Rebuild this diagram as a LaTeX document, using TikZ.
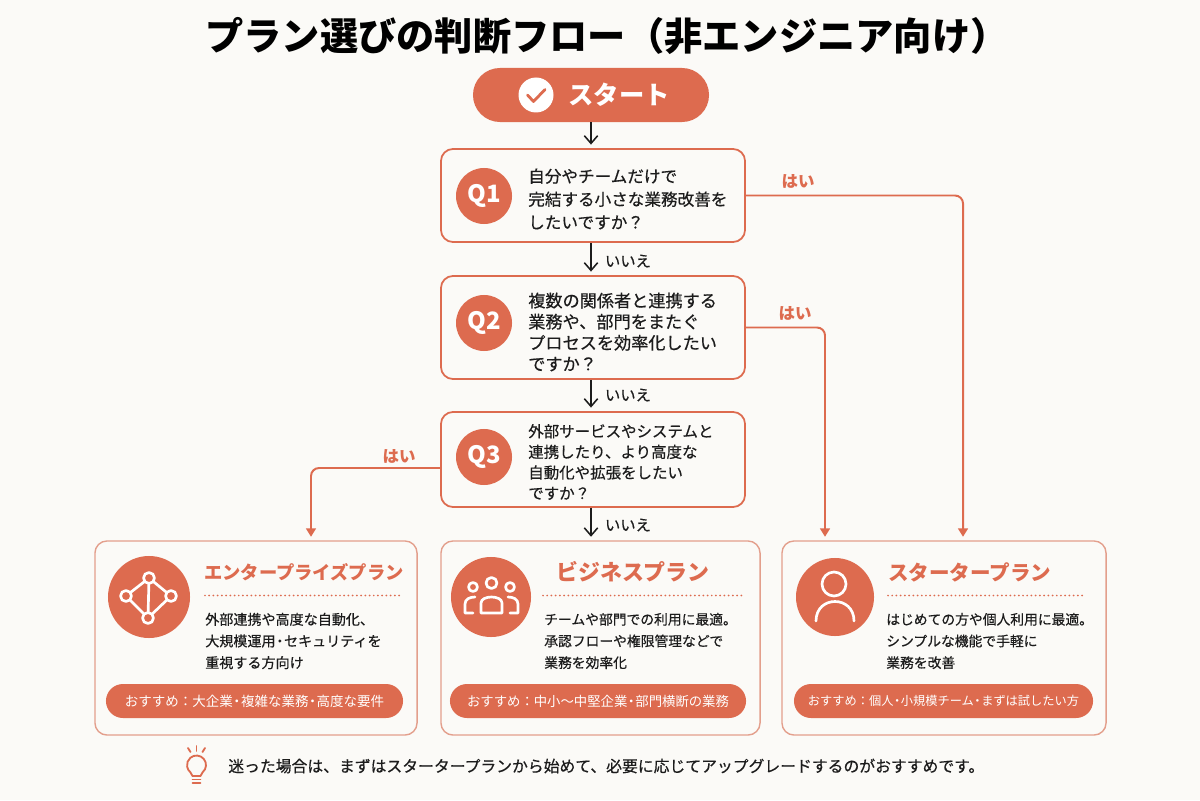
\documentclass[tikz,border=0pt]{standalone}
\usepackage{fontspec}
\setmainfont{Noto Sans CJK JP}
\newfontfamily\planmed{Noto Sans CJK JP}[FakeBold=0.5]
\usetikzlibrary{arrows.meta}
\definecolor{planred}{HTML}{DD6B4F}
\definecolor{planedge}{HTML}{E39F8C}
\definecolor{planbg}{HTML}{FBFAF7}
\definecolor{planink}{HTML}{1C1C1C}
\newcommand{\halfdot}{\makebox[0.6em]{・}}
\tikzset{
  startbox/.style={fill=planred,text=white,rounded corners=0.675cm,minimum width=5.9cm,minimum height=1.35cm},
  qbox/.style={draw=planred,line width=1.25pt,fill=planbg,rounded corners=0.3cm,minimum width=7.6cm},
  qdot/.style={circle,fill=planred,text=white,minimum size=1.4cm,inner sep=0pt,font=\fontsize{17}{17}\selectfont\bfseries},
  qtext/.style 2 args={anchor=west,align=left,inner sep=0pt,text=planink,font=\fontsize{#1}{#2}\selectfont\planmed},
  cardbox/.style={draw=planedge,line width=1pt,fill=planbg,rounded corners=0.3cm,minimum height=4.85cm},
  carddot/.style={circle,fill=planred,minimum size=2cm,inner sep=0pt},
  cardtitle/.style={inner sep=0pt,text=planred,font=\fontsize{#1}{18}\selectfont\bfseries},
  cardtext/.style={anchor=west,align=left,inner sep=0pt,text=planink,font=\fontsize{#1}{15.4}\selectfont\planmed},
  pill/.style={fill=planred,text=white,rounded corners=0.425cm,minimum height=0.85cm,inner sep=0pt,font=\fontsize{#1}{11}\selectfont},
  noline/.style={-{Straight Barb[length=5.5pt,width=9.5pt]},draw=planink,line width=1.1pt,shorten >=2.5pt},
  yesline/.style={-{Triangle[length=6pt,width=7pt]},draw=planred,line width=1.4pt,rounded corners=0.2cm,shorten >=3pt},
  yeslabel/.style={inner sep=0pt,text=planred,font=\fontsize{11.7}{13}\selectfont\bfseries},
  nolabel/.style={inner sep=0pt,text=planink,font=\fontsize{10.9}{12}\selectfont\planmed},
  iconline/.style={draw=white,line width=1.9pt,line cap=round,line join=round},
  dotrule/.style={draw=planred,line width=1.4pt,line cap=round,dash pattern=on 0pt off 3pt},
  bulbline/.style={draw=planred,line width=1.3pt,line join=round,line cap=round},
}
\begin{document}
\begin{tikzpicture}[x=0.025cm,y=-0.025cm]
\useasboundingbox (0,0) rectangle (1200,800);
\fill[planbg] (0,0) rectangle (1200,800);
\node[inner sep=0pt,text=black,font=\fontsize{27.2}{30}\selectfont\bfseries] (title) at (607,36) {プラン選びの判断フロー（非エンジニア向け）};

\node[startbox] (start) at (591,95) {};
\fill[white] (536,95) circle (17.5);
\draw[draw=planred,line width=2pt,line cap=round,line join=round] (527.5,95) -- (533.5,101.5) -- (545,89.5);
\node[inner sep=0pt,text=white,font=\fontsize{18}{20}\selectfont\bfseries] (starttext) at (619,95) {スタート};

\node[qbox,minimum height=2.325cm] (q1) at (593,195.5) {};
\node[qbox,minimum height=2.575cm] (q2) at (593,327.5) {};
\node[qbox,minimum height=2.375cm] (q3) at (593,459.5) {};
\node[qdot] (q1dot) at (484,196) {Q1};
\node[qdot] (q2dot) at (484,323) {Q2};
\node[qdot] (q3dot) at (484,457) {Q3};
\node[qtext={11.8}{16.4}] (q1text) at (528,199) {自分やチームだけで\\完結する小さな業務改善を\\したいですか？};
\node[qtext={12.2}{15}] (q2text) at (528,332) {複数の関係者と連携する\\業務や、部門をまたぐ\\プロセスを効率化したい\\ですか？};
\node[qtext={11}{14.7}] (q3text) at (528,462) {外部サービスやシステムと\\連携したり、より高度な\\自動化や拡張をしたい\\ですか？};

\node[cardbox,minimum width=8.05cm] (ent) at (256,638) {};
\node[cardbox,minimum width=7.975cm] (biz) at (600.5,638) {};
\node[cardbox,minimum width=8.1cm] (sta) at (944,638) {};

\coordinate (q3out) at (441,468);
\coordinate (entin) at (311,541);
\coordinate (q2in) at (825,541);
\coordinate (q1in) at (963,541);
\draw[noline] (start.south) -- (start |- q1.north);
\draw[noline] (start |- q1.south) -- (start |- q2.north);
\draw[noline] (start |- q2.south) -- (start |- q3.north);
\draw[noline] (start |- q3.south) -- (start |- biz.north);
\draw[yesline] (q1.east) -| (q1in);
\draw[yesline] (q2.east) -| (q2in);
\draw[yesline] (q3out) -| (entin);
\node[yeslabel] (yes1) at (798,181) {はい};
\node[yeslabel] (yes2) at (795,313) {はい};
\node[yeslabel] (yes3) at (399,456) {はい};
\node[nolabel] (no1) at (628,261) {いいえ};
\node[nolabel] (no2) at (628,395) {いいえ};
\node[nolabel] (no3) at (628,525) {いいえ};

\node[carddot,minimum size=2.05cm] (entdot) at (149,597) {};
\node[carddot] (bizdot) at (491,597) {};
\node[carddot,minimum size=1.95cm] (stadot) at (835,597) {};

\coordinate (nt) at (149,578);
\coordinate (nl) at (126,596);
\coordinate (nr) at (171,596);
\coordinate (nb) at (148,618);
\draw[iconline] (nt) -- (nl) -- (nb) -- (nr) -- cycle;
\draw[iconline] (nt) -- (nb);
\foreach \p in {nt,nl,nr,nb}
	\filldraw[iconline,fill=planred] (\p) circle (5.5);

\draw[iconline] (491.5,583) circle (5.5);
\draw[iconline] (473,587) circle (4.5);
\draw[iconline] (510,587) circle (4.5);
\draw[iconline] (481,613) -- (481,603) .. controls (481,595) and (502,595) .. (502,603) -- (502,613) -- cycle;
\draw[iconline] (473,613) -- (465,613) -- (465,604) .. controls (465,599) and (470,597) .. (475,597);
\draw[iconline] (510,613) -- (518,613) -- (518,604) .. controls (518,599) and (513,597) .. (508,597);

\draw[iconline] (834,584) circle (12);
\draw[iconline] (816,621) .. controls (816,595) and (854,595) .. (854,621);

\node[cardtitle=13,anchor=west] (enttitle) at (204,572) {エンタープライズプラン};
\node[cardtitle=15.6] (biztitle) at (633,572) {ビジネスプラン};
\node[cardtitle=14.6,anchor=west] (statitle) at (888,572) {スタータープラン};
\draw[dotrule] (205,595.5) -- (402,595.5);
\draw[dotrule] (543,595.5) -- (744,595.5);
\draw[dotrule] (888,595.5) -- (1083,595.5);

\node[cardtext=10] (enttext) at (205,641) {外部連携や高度な自動化、\\大規模運用\halfdot セキュリティを\\重視する方向け};
\node[cardtext=9.8] (biztext) at (544,641) {チームや部門での利用に最適。\\承認フローや権限管理などで\\業務を効率化};
\node[cardtext=9.8] (statext) at (886,641) {はじめての方や個人利用に最適。\\シンプルな機能で手軽に\\業務を改善};

\node[pill=9.6,minimum width=7.425cm] (entpill) at (254.5,701) {おすすめ：大企業\halfdot 複雑な業務\halfdot 高度な要件};
\node[pill=9.5,minimum width=7.4cm] (bizpill) at (598,701) {おすすめ：中小〜中堅企業\halfdot 部門横断の業務};
\node[pill=8.7,minimum width=7.475cm] (stapill) at (943.5,701) {おすすめ：個人\halfdot 小規模チーム\halfdot まずは試したい方};

\draw[bulbline] (202.6,772.3) arc[start angle=50,end angle=-230,radius=9.5] -- (192.5,776) -- (200.5,776) -- cycle;
\foreach \yy in {779.5,783}
	\draw[bulbline] (192.5,\yy) -- (200.5,\yy);
\draw[bulbline] (196.5,746) -- (196.5,751);
\draw[bulbline] (188,748) -- (190.5,752);
\draw[bulbline] (205,748) -- (202.5,752);
\node[anchor=west,inner sep=0pt,text=planink,font=\fontsize{11.25}{13}\selectfont\planmed] (note) at (228,766) {迷った場合は、まずはスタータープランから始めて、必要に応じてアップグレードするのがおすすめです。};
\end{tikzpicture}
\end{document}
